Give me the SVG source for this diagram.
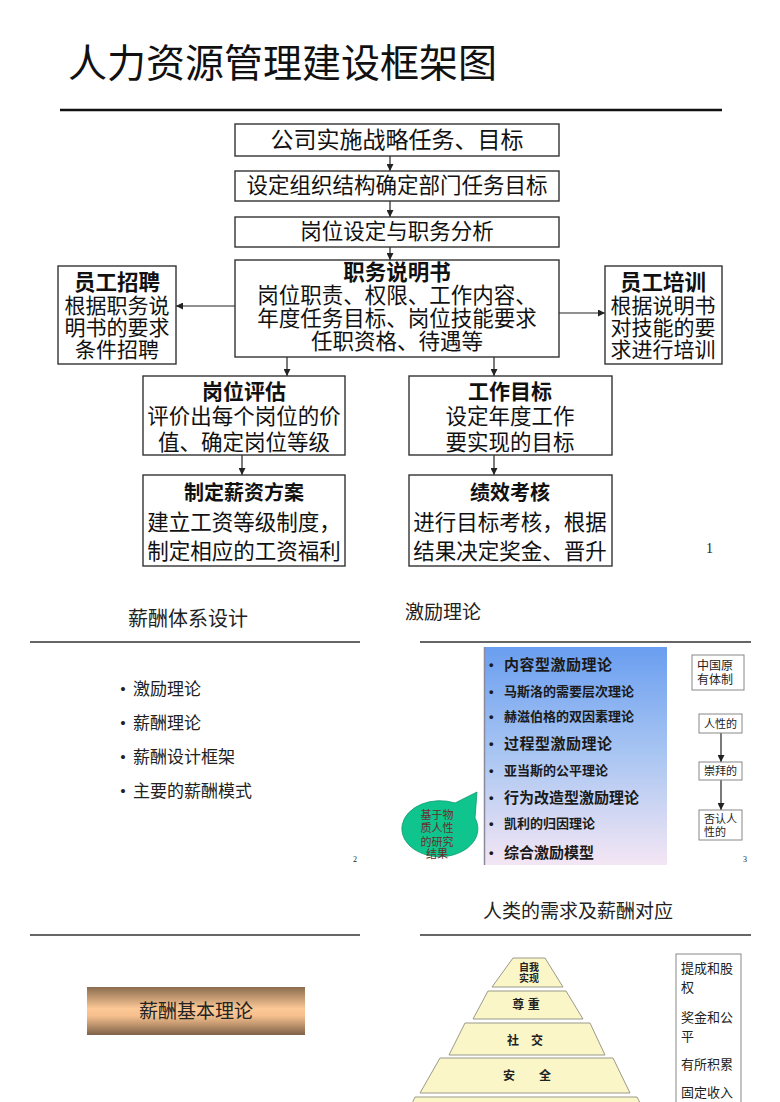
<svg xmlns="http://www.w3.org/2000/svg" width="780" height="1102" viewBox="0 0 780 1102">
<defs>
<style>
.bx{fill:#fff;stroke:#333;stroke-width:1.4}
.t{font-family:"Liberation Sans","Noto Sans CJK SC",sans-serif;fill:#111;text-anchor:middle;dominant-baseline:central}
.tb{font-weight:bold}
.sr{font-family:"Liberation Serif","Noto Sans CJK SC",serif;fill:#222}
.c{stroke:#222;stroke-width:1.2;fill:none;marker-end:url(#ah)}
.hl{stroke:#333;stroke-width:1.6}
.sb{fill:#fff;stroke:#888;stroke-width:1}
.py{fill:#faf6c8;stroke:#9a9a8a;stroke-width:1}
.pt{font-family:"Liberation Sans","Noto Sans CJK SC",sans-serif;font-weight:bold;fill:#222;text-anchor:middle;dominant-baseline:central}
.it{font-family:"Liberation Sans","Noto Sans CJK SC",sans-serif;font-weight:bold;fill:#1a1a1a;dominant-baseline:central}
</style>
<marker id="ah" viewBox="0 0 10 10" refX="10" refY="5" markerWidth="7" markerHeight="7" markerUnits="userSpaceOnUse" orient="auto">
<path d="M0,0 L10,5 L0,10 Z" fill="#222"/>
</marker>
<linearGradient id="gBlue" x1="0" y1="0" x2="0" y2="1">
<stop offset="0" stop-color="#6a9ef0"/>
<stop offset="0.5" stop-color="#aac6f2"/>
<stop offset="1" stop-color="#f4e6f4"/>
</linearGradient>
<linearGradient id="gGold" x1="0" y1="0" x2="0" y2="1">
<stop offset="0" stop-color="#8a6c4e"/>
<stop offset="0.45" stop-color="#fcc896"/>
<stop offset="0.6" stop-color="#f6c08e"/>
<stop offset="1" stop-color="#7e6248"/>
</linearGradient>
</defs>
<rect width="780" height="1102" fill="#fff"/>

<!-- Slide 1 -->
<text x="68" y="77" font-family="Liberation Serif,'Noto Sans CJK SC',serif" font-size="39" fill="#111">人力资源管理建设框架图</text>
<line x1="60" y1="110" x2="722" y2="110" stroke="#111" stroke-width="2.6"/>

<g id="connectors">
<line class="c" x1="390" y1="156" x2="390" y2="171"/>
<line class="c" x1="390" y1="201" x2="390" y2="217"/>
<line class="c" x1="390" y1="247" x2="390" y2="260"/>
<line class="c" x1="235" y1="306" x2="176" y2="306"/>
<line class="c" x1="559" y1="313" x2="605" y2="313"/>
<line class="c" x1="287" y1="357" x2="287" y2="376"/>
<line class="c" x1="494" y1="357" x2="494" y2="376"/>
<line class="c" x1="242" y1="455" x2="242" y2="475"/>
<line class="c" x1="494" y1="455" x2="494" y2="475"/>
<line class="c" x1="721" y1="733" x2="721" y2="762" stroke="#555"/>
<line class="c" x1="721" y1="780" x2="721" y2="810" stroke="#555"/>
</g>

<g id="n1"><rect class="bx" x="235" y="124" width="324" height="32"/>
<text class="t" x="397" y="140" font-size="23">公司实施战略任务、目标</text></g>
<g id="n2"><rect class="bx" x="235" y="171" width="324" height="30"/>
<text class="t" x="397" y="186" font-size="21.5">设定组织结构确定部门任务目标</text></g>
<g id="n3"><rect class="bx" x="235" y="217" width="324" height="30"/>
<text class="t" x="397" y="232" font-size="21.5">岗位设定与职务分析</text></g>
<g id="n4"><rect class="bx" x="235" y="260" width="324" height="97"/>
<text class="t tb" x="397" y="273" font-size="21.5">职务说明书</text>
<text class="t" x="397" y="296" font-size="21.5">岗位职责、权限、工作内容、</text>
<text class="t" x="397" y="319" font-size="21.5">年度任务目标、岗位技能要求</text>
<text class="t" x="397" y="342" font-size="21.5">任职资格、待遇等</text></g>
<g id="n5"><rect class="bx" x="58" y="266" width="118" height="98"/>
<text class="t tb" x="117" y="283" font-size="21.5">员工招聘</text>
<text class="t" x="117" y="305" font-size="21">根据职务说</text>
<text class="t" x="117" y="327" font-size="21">明书的要求</text>
<text class="t" x="117" y="349" font-size="21">条件招聘</text></g>
<g id="n6"><rect class="bx" x="605" y="266" width="117" height="98"/>
<text class="t tb" x="663" y="283" font-size="21.5">员工培训</text>
<text class="t" x="663" y="305" font-size="21">根据说明书</text>
<text class="t" x="663" y="327" font-size="21">对技能的要</text>
<text class="t" x="663" y="349" font-size="21">求进行培训</text></g>
<g id="n7"><rect class="bx" x="143" y="376" width="202" height="79"/>
<text class="t tb" x="244" y="391" font-size="21">岗位评估</text>
<text class="t" x="244" y="417" font-size="21.5">评价出每个岗位的价</text>
<text class="t" x="244" y="443" font-size="21.5">值、确定岗位等级</text></g>
<g id="n8"><rect class="bx" x="409" y="376" width="203" height="79"/>
<text class="t tb" x="510" y="391" font-size="21">工作目标</text>
<text class="t" x="510" y="417" font-size="21.5">设定年度工作</text>
<text class="t" x="510" y="443" font-size="21.5">要实现的目标</text></g>
<g id="n9"><rect class="bx" x="143" y="475" width="202" height="91"/>
<text class="t tb" x="244" y="493" font-size="20">制定薪资方案</text>
<text class="t" x="244" y="523" font-size="21.5">建立工资等级制度，</text>
<text class="t" x="244" y="552" font-size="21.5">制定相应的工资福利</text></g>
<g id="n10"><rect class="bx" x="409" y="475" width="203" height="91"/>
<text class="t tb" x="510" y="493" font-size="20">绩效考核</text>
<text class="t" x="510" y="523" font-size="21.5">进行目标考核，根据</text>
<text class="t" x="510" y="552" font-size="21.5">结果决定奖金、晋升</text></g>
<text class="sr" x="706" y="553" font-size="14">1</text>

<!-- Slide 2 -->
<g id="s2">
<text class="sr" x="188" y="619" font-size="20" text-anchor="middle" dominant-baseline="central">薪酬体系设计</text>
<line class="hl" x1="30" y1="642" x2="360" y2="642"/>
<g font-size="17">
<text class="sr" x="120" y="689" dominant-baseline="central">•</text><text class="sr" x="133" y="689" dominant-baseline="central">激励理论</text>
<text class="sr" x="120" y="723" dominant-baseline="central">•</text><text class="sr" x="133" y="723" dominant-baseline="central">薪酬理论</text>
<text class="sr" x="120" y="757" dominant-baseline="central">•</text><text class="sr" x="133" y="757" dominant-baseline="central">薪酬设计框架</text>
<text class="sr" x="120" y="791" dominant-baseline="central">•</text><text class="sr" x="133" y="791" dominant-baseline="central">主要的薪酬模式</text>
</g>
<text class="sr" x="353" y="862" font-size="8">2</text>
</g>

<!-- Slide 3 -->
<g id="s3">
<text class="sr" x="405" y="612" font-size="19" dominant-baseline="central">激励理论</text>
<line class="hl" x1="420" y1="642" x2="751" y2="642"/>
<g id="theoryBox">
<rect x="484" y="647" width="183" height="218" fill="url(#gBlue)"/>
<line x1="484.5" y1="647" x2="484.5" y2="865" stroke="#8a8a9a" stroke-width="1.5"/>
<g>
<text class="it" x="489" y="664" font-size="13">•</text><text class="it" x="504" y="664" font-size="15" letter-spacing="0.5">内容型激励理论</text>
<text class="it" x="489" y="691" font-size="13">•</text><text class="it" x="504" y="691" font-size="13">马斯洛的需要层次理论</text>
<text class="it" x="489" y="716" font-size="13">•</text><text class="it" x="504" y="716" font-size="13">赫滋伯格的双因素理论</text>
<text class="it" x="489" y="743" font-size="13">•</text><text class="it" x="504" y="743" font-size="15" letter-spacing="0.5">过程型激励理论</text>
<text class="it" x="489" y="770" font-size="13">•</text><text class="it" x="504" y="770" font-size="13">亚当斯的公平理论</text>
<text class="it" x="489" y="797" font-size="13">•</text><text class="it" x="504" y="797" font-size="15">行为改造型激励理论</text>
<text class="it" x="489" y="823" font-size="13">•</text><text class="it" x="504" y="823" font-size="13">凯利的归因理论</text>
<text class="it" x="489" y="852" font-size="13">•</text><text class="it" x="504" y="852" font-size="15">综合激励模型</text>
</g>
</g>
<g id="bubble">
<path d="M455,803 L477,792 L475,818 A38 28 0 1 1 455,803 Z" fill="#10c48e" stroke="#0a9a6e" stroke-width="0.8"/>
<g font-family="Liberation Serif,'Noto Sans CJK SC',serif" font-size="11" fill="#6b2b2b" text-anchor="middle" dominant-baseline="central">
<text x="437" y="815">基于物</text>
<text x="437" y="828">质人性</text>
<text x="437" y="842">的研究</text>
<text x="437" y="854">结果</text>
</g>
</g>
<g id="cn"><rect class="sb" x="692" y="655" width="52" height="35"/>
<text class="sr" x="697" y="666" font-size="12" dominant-baseline="central">中国原</text>
<text class="sr" x="697" y="680" font-size="12" dominant-baseline="central">有体制</text></g>
<g id="rx1"><rect class="sb" x="699" y="714" width="43" height="19"/>
<text class="sr" x="720.5" y="723.5" font-size="11" text-anchor="middle" dominant-baseline="central">人性的</text></g>
<g id="rx2"><rect class="sb" x="699" y="762" width="43" height="18"/>
<text class="sr" x="720.5" y="771" font-size="11" text-anchor="middle" dominant-baseline="central">崇拜的</text></g>
<g id="rx3"><rect class="sb" x="699" y="810" width="43" height="30"/>
<text class="sr" x="704" y="819" font-size="11" dominant-baseline="central">否认人</text>
<text class="sr" x="704" y="832" font-size="11" dominant-baseline="central">性的</text></g>
<text class="sr" x="743" y="862" font-size="8">3</text>
</g>

<!-- Slide 4 -->
<g id="s4">
<line class="hl" x1="30" y1="935" x2="360" y2="935"/>
<g id="basic"><rect x="87" y="987" width="218" height="48" fill="url(#gGold)"/>
<text class="sr" x="196" y="1011" font-size="19" text-anchor="middle" dominant-baseline="central">薪酬基本理论</text></g>
</g>

<!-- Slide 5 -->
<g id="s5">
<text class="sr" x="578" y="911" font-size="19" text-anchor="middle" dominant-baseline="central">人类的需求及薪酬对应</text>
<line class="hl" x1="420" y1="935" x2="751" y2="935"/>
<g id="p1"><polygon class="py" points="513,958 545,958 563,987 492,987"/>
<text class="pt" x="529" y="967" font-size="10">自我</text>
<text class="pt" x="529" y="978" font-size="10">实现</text></g>
<g id="p2"><polygon class="py" points="488,991 566,991 583,1019 473,1019"/>
<text class="pt" x="526" y="1005" font-size="12">尊 重</text></g>
<g id="p3"><polygon class="py" points="465,1023 590,1023 605,1055 449,1055"/>
<text class="pt" x="525" y="1041" font-size="12">社　交</text></g>
<g id="p4"><polygon class="py" points="440,1058 613,1058 630,1093 420,1093"/>
<text class="pt" x="527" y="1076" font-size="12">安　　全</text></g>
<g id="p5"><polygon class="py" points="415,1097 637,1097 645,1112 408,1112"/></g>
<g id="pay"><rect class="sb" x="676" y="954" width="65" height="160"/>
<g font-size="13">
<text class="sr" x="681" y="968" dominant-baseline="central">提成和股</text>
<text class="sr" x="681" y="987" dominant-baseline="central">权</text>
<text class="sr" x="681" y="1017" dominant-baseline="central">奖金和公</text>
<text class="sr" x="681" y="1036" dominant-baseline="central">平</text>
<text class="sr" x="681" y="1064" dominant-baseline="central">有所积累</text>
<text class="sr" x="681" y="1092" dominant-baseline="central">固定收入</text>
</g></g>
</g>
</svg>
